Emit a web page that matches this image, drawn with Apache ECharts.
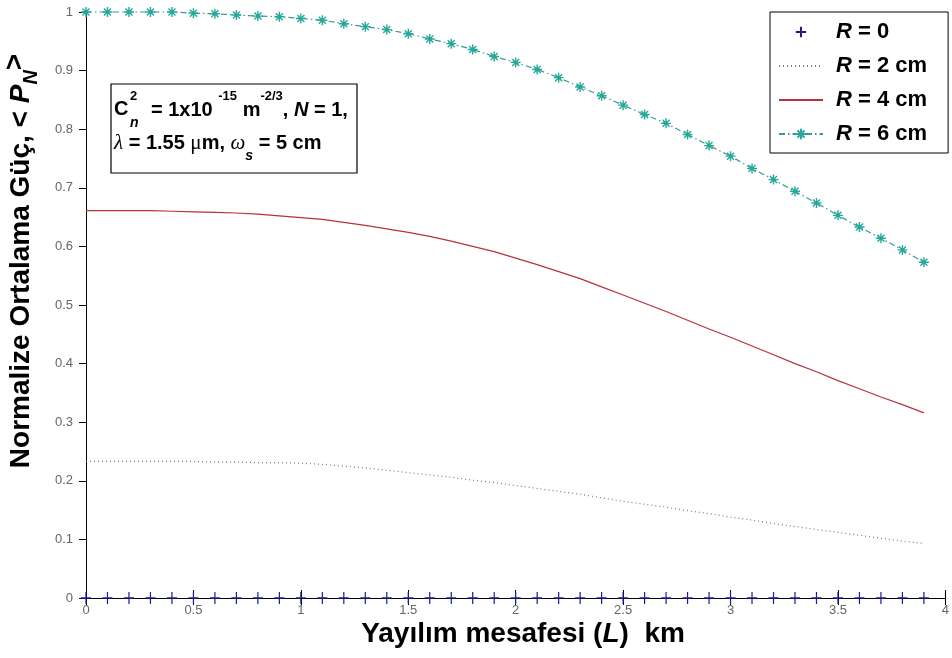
<!DOCTYPE html>
<html>
<head>
<meta charset="utf-8">
<title>Normalize Ortalama Güç</title>
<script src="https://cdn.jsdelivr.net/npm/echarts@6/dist/echarts.min.js"></script>
<style>
  html, body { margin: 0; padding: 0; background: #fff; }
  #chart { width: 952px; height: 658px; }
</style>
</head>
<body>
<div id="chart"></div>
<script>
const FONT = '"Liberation Sans", Arial, sans-serif';
const SERIF = '"Liberation Serif", "DejaVu Serif", serif';

// Yayılım mesafesi L (km)
const distances = [0, 0.1, 0.2, 0.3, 0.4, 0.5, 0.6, 0.7, 0.8, 0.9,
    1.0, 1.1, 1.2, 1.3, 1.4, 1.5, 1.6, 1.7, 1.8, 1.9,
    2.0, 2.1, 2.2, 2.3, 2.4, 2.5, 2.6, 2.7, 2.8, 2.9,
    3.0, 3.1, 3.2, 3.3, 3.4, 3.5, 3.6, 3.7, 3.8, 3.9];

const seriesNames = ['R = 0', 'R = 2 cm', 'R = 4 cm', 'R = 6 cm'];

// Normalize ortalama güç <P_N>
const powerR0 = [0, 0, 0, 0, 0, 0, 0, 0, 0, 0,
    0, 0, 0, 0, 0, 0, 0, 0, 0, 0,
    0, 0, 0, 0, 0, 0, 0, 0, 0, 0,
    0, 0, 0, 0, 0, 0, 0, 0, 0, 0];
const powerR2 = [0.233, 0.233, 0.233, 0.233, 0.233, 0.233, 0.232, 0.232, 0.231, 0.231,
    0.230, 0.228, 0.225, 0.222, 0.218, 0.214, 0.210, 0.206, 0.201, 0.197,
    0.192, 0.187, 0.182, 0.177, 0.171, 0.165, 0.160, 0.155, 0.149, 0.144,
    0.138, 0.133, 0.127, 0.122, 0.117, 0.112, 0.107, 0.102, 0.097, 0.093];
const powerR4 = [0.661, 0.661, 0.661, 0.661, 0.660, 0.659, 0.658, 0.657, 0.655, 0.652,
    0.649, 0.646, 0.641, 0.636, 0.630, 0.624, 0.617, 0.609, 0.600, 0.591,
    0.580, 0.569, 0.557, 0.545, 0.531, 0.517, 0.503, 0.489, 0.474, 0.459,
    0.445, 0.430, 0.415, 0.400, 0.386, 0.371, 0.357, 0.343, 0.330, 0.316];
const powerR6 = [1.0, 1.0, 1.0, 1.0, 1.0, 0.998, 0.997, 0.995, 0.993, 0.992,
    0.989, 0.986, 0.980, 0.975, 0.970, 0.963, 0.954, 0.946, 0.936, 0.924,
    0.914, 0.902, 0.888, 0.872, 0.857, 0.841, 0.825, 0.810, 0.791, 0.772,
    0.754, 0.733, 0.714, 0.694, 0.674, 0.653, 0.633, 0.614, 0.594, 0.573];

const xMin = 0, xMax = 4, xStep = 0.5;
const yMin = 0, yMax = 1, yStep = 0.1;

const PLUS = 'path://M5,0L5,12M0,6L10,6';
const STAR = 'path://M5,0L5,10M0,5L10,5M1.5,1.5L8.5,8.5M1.5,8.5L8.5,1.5';

function pairs(values) {
    return distances.map((d, i) => [d, values[i]]);
}

const chart = echarts.init(document.getElementById('chart'), null, { renderer: 'canvas' });

// hidden symbol so the legend shows only the line
const noMarker = { color: 'rgba(0,0,0,0)', borderWidth: 0 };

const option = {
    animation: false,
    backgroundColor: '#fff',
    grid: { left: 86, right: 5, top: 12, bottom: 60, containLabel: false },
    xAxis: [{
        type: 'value', min: xMin, max: xMax, interval: xStep,
        axisLine: { lineStyle: { color: '#000', width: 1 } },
        axisTick: { inside: true, length: 8, lineStyle: { color: '#000' } },
        axisLabel: { color: '#666', fontFamily: FONT, fontSize: 13, margin: 6 },
        splitLine: { show: false }
    }, {
        type: 'value', position: 'top', min: xMin, max: xMax, interval: xStep,
        axisLine: { lineStyle: { color: '#000', width: 1 } },
        axisTick: { inside: true, length: 7, lineStyle: { color: '#000' } },
        axisLabel: { show: false },
        splitLine: { show: false }
    }],
    yAxis: [{
        type: 'value', min: yMin, max: yMax, interval: yStep,
        axisLine: { show: true, lineStyle: { color: '#e6e6e6' } },
        axisTick: { inside: false, length: 6, lineStyle: { color: '#555' } },
        axisLabel: {
            color: '#666', fontFamily: FONT, fontSize: 13, margin: 13,
            formatter: v => String(parseFloat(v.toFixed(1)))
        },
        splitLine: { show: false }
    }, {
        type: 'value', position: 'right', min: yMin, max: yMax, interval: yStep,
        axisLine: { show: true, lineStyle: { color: '#000' } },
        axisTick: { inside: true, length: 7, lineStyle: { color: '#000' } },
        axisLabel: { show: false },
        splitLine: { show: false }
    }],
    legend: {
        orient: 'vertical',
        left: 770, top: 12,
        padding: [9, 21, 8, 8],
        itemGap: 12,
        itemWidth: 44,
        itemHeight: 13,
        backgroundColor: '#fff',
        borderColor: '#000',
        borderWidth: 1,
        data: seriesNames,
        formatter: n => '{it|R}{b|' + n.slice(1) + '}',
        textStyle: {
            padding: [0, 0, 0, 8],
            rich: {
                it: { fontFamily: FONT, fontSize: 22, fontWeight: 'bold', fontStyle: 'italic', color: '#000', lineHeight: 24 },
                b: { fontFamily: FONT, fontSize: 22, fontWeight: 'bold', color: '#000', lineHeight: 24 }
            }
        }
    },
    series: [{
        name: seriesNames[0], type: 'line', data: pairs(powerR0),
        symbol: PLUS, symbolSize: [10, 12], showAllSymbol: true, clip: false,
        lineStyle: { width: 0, opacity: 0 },
        itemStyle: { color: 'rgba(0,0,0,0)', borderColor: '#1c1c8c', borderWidth: 1.3 },
        emphasis: { disabled: true }, z: 4
    }, {
        name: seriesNames[1], type: 'line', data: pairs(powerR2),
        symbol: 'circle', showSymbol: false, clip: false,
        lineStyle: { color: '#6f7d7d', width: 1.2, type: [1, 3] },
        itemStyle: noMarker,
        emphasis: { disabled: true }
    }, {
        name: seriesNames[2], type: 'line', data: pairs(powerR4),
        symbol: 'circle', showSymbol: false, clip: false,
        lineStyle: { color: '#b8323a', width: 1.2 },
        itemStyle: noMarker,
        emphasis: { disabled: true }
    }, {
        name: seriesNames[3], type: 'line', data: pairs(powerR6),
        symbol: STAR, symbolSize: 10, showAllSymbol: true, clip: false,
        lineStyle: { color: '#3a9a92', width: 1.2, type: [6, 3, 1.5, 3] },
        itemStyle: { color: 'rgba(0,0,0,0)', borderColor: '#25a89a', borderWidth: 1.4 },
        emphasis: { disabled: true }
    }],
    graphic: [
        // annotation box
        {
            type: 'rect', z: 100,
            shape: { x: 111, y: 84, width: 246, height: 89 },
            style: { fill: '#fff', stroke: '#000', lineWidth: 1.2 }
        },
        {
            type: 'text', z: 101, x: 114, y: 109,
            style: { text: 'C', font: 'bold 20px ' + FONT, fill: '#000', verticalAlign: 'middle' }
        },
        {
            type: 'text', z: 101, x: 130, y: 96,
            style: { text: '2', font: 'bold 13px ' + FONT, fill: '#000', verticalAlign: 'middle' }
        },
        {
            type: 'text', z: 101, x: 130, y: 123,
            style: { text: 'n', font: 'italic bold 14px ' + FONT, fill: '#000', verticalAlign: 'middle' }
        },
        {
            type: 'text', z: 101, x: 151, y: 105,
            style: {
                text: '{b|= 1x10 }{sup|-15}{b| m}{sup|-2/3}{b|, }{bi|N}{b| = 1,}',
                verticalAlign: 'middle',
                rich: {
                    b: { fontFamily: FONT, fontSize: 20, fontWeight: 'bold', fill: '#000', lineHeight: 30, verticalAlign: 'bottom' },
                    bi: { fontFamily: FONT, fontSize: 20, fontWeight: 'bold', fontStyle: 'italic', fill: '#000', lineHeight: 30, verticalAlign: 'bottom' },
                    sup: { fontFamily: FONT, fontSize: 13, fontWeight: 'bold', fill: '#000', lineHeight: 14, verticalAlign: 'top' }
                }
            }
        },
        {
            type: 'text', z: 101, x: 114, y: 148,
            style: {
                text: '{lam|λ}{b| = 1.55 }{mu|μ}{b|m, }{om|ω}{sub|s}{b| = 5 cm}',
                verticalAlign: 'middle',
                rich: {
                    b: { fontFamily: FONT, fontSize: 20, fontWeight: 'bold', fill: '#000', lineHeight: 30, verticalAlign: 'top' },
                    lam: { fontFamily: SERIF, fontSize: 21, fontStyle: 'italic', fill: '#000', lineHeight: 30, verticalAlign: 'top' },
                    mu: { fontFamily: SERIF, fontSize: 21, fill: '#000', lineHeight: 30, verticalAlign: 'top' },
                    om: { fontFamily: SERIF, fontSize: 21, fontStyle: 'italic', fill: '#000', lineHeight: 30, verticalAlign: 'top' },
                    sub: { fontFamily: FONT, fontSize: 14, fontWeight: 'bold', fontStyle: 'italic', fill: '#000', lineHeight: 14, verticalAlign: 'bottom' }
                }
            }
        },
        // axis titles
        {
            type: 'text', z: 101, x: 523, y: 634,
            style: {
                text: '{b|Yayılım mesafesi (}{bi|L}{b|)  km}',
                align: 'center', verticalAlign: 'middle',
                rich: {
                    b: { fontFamily: FONT, fontSize: 28, fontWeight: 'bold', fill: '#000' },
                    bi: { fontFamily: FONT, fontSize: 28, fontWeight: 'bold', fontStyle: 'italic', fill: '#000' }
                }
            }
        },
        {
            type: 'text', z: 101, x: 21, y: 261, rotation: Math.PI / 2,
            style: {
                text: '{b|Normalize Ortalama Güç, < }{bi|P}{sub|N}{sup|>}',
                align: 'center', verticalAlign: 'middle',
                rich: {
                    b: { fontFamily: FONT, fontSize: 28, fontWeight: 'bold', fill: '#000', lineHeight: 40 },
                    bi: { fontFamily: FONT, fontSize: 28, fontWeight: 'bold', fontStyle: 'italic', fill: '#000', lineHeight: 40 },
                    sub: { fontFamily: FONT, fontSize: 20, fontWeight: 'bold', fontStyle: 'italic', fill: '#000', lineHeight: 20, verticalAlign: 'bottom' },
                    sup: { fontFamily: FONT, fontSize: 28, fontWeight: 'bold', fill: '#000', lineHeight: 32, verticalAlign: 'top' }
                }
            }
        }
    ]
};

chart.setOption(option, true);
</script>
</body>
</html>
